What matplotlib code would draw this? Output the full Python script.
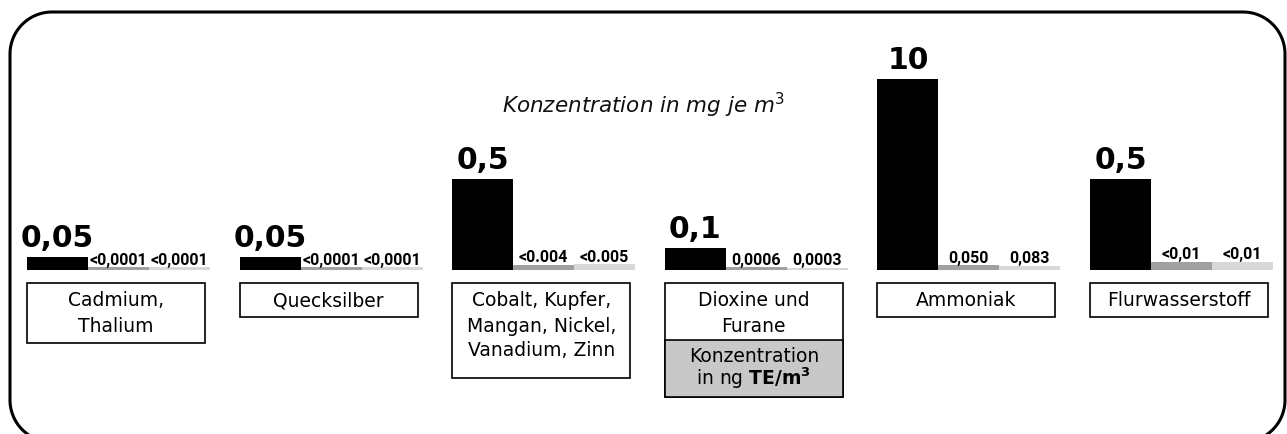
import matplotlib
matplotlib.use("Agg")
import numpy as np
import matplotlib.pyplot as plt
from matplotlib.patches import Rectangle

plt.rcParams['font.family'] = ['DejaVu Sans']
plt.rcParams['mathtext.fontset'] = 'dejavusans'

# Data
groups = ["Cadmium,\nThalium", "Quecksilber", "Cobalt, Kupfer,\nMangan, Nickel,\nVanadium, Zinn",
          "Dioxine und\nFurane", "Ammoniak", "Flurwasserstoff"]
limit_labels = ["0,05", "0,05", "0,5", "0,1", "10", "0,5"]
meas1_labels = ["<0,0001", "<0,0001", "<0.004", "0,0006", "0,050", "<0,01"]
meas2_labels = ["<0,0001", "<0,0001", "<0.005", "0,0003", "0,083", "<0,01"]
# bar heights as drawn in the picture (not to scale)
limit_height = [13, 13, 91, 22, 191, 91]
meas1_height = [3, 3, 5, 3, 5, 8]
meas2_height = [3, 3, 6, 2, 4, 8]

W, H = 1287, 434
fig = plt.figure(figsize=(W / 100, H / 100), dpi=100)

# rounded frame in pixel coords, built from line segments (bottom runs off the page)
fax = fig.add_axes([0, 0, 1, 1])
fax.set_xlim(0, W)
fax.set_ylim(H, 0)
fax.axis('off')
x0, y0, x1, y1, r = 10, 12, 1285, 442, 42
t = np.linspace(0, np.pi / 2, 30)
px, py = [W / 2], [y0]
for cx, cy, a0 in [(x1 - r, y0 + r, -np.pi / 2), (x1 - r, y1 - r, 0),
                   (x0 + r, y1 - r, np.pi / 2), (x0 + r, y0 + r, np.pi)]:
    px += list(cx + r * np.cos(a0 + t))
    py += list(cy + r * np.sin(a0 + t))
px.append(W / 2)
py.append(y0)
fax.plot(px, py, color='black', lw=2.2, solid_joinstyle='round', solid_capstyle='butt')

# chart axes: x in group units, y in pixels above baseline
X0, G, BASE = 27, 212.6, 270
ax = fig.add_axes([0, 0, 1, 1], facecolor='none')
ax.set_xlim(-X0 / G, (W - X0) / G)
ax.set_ylim(-(H - BASE), BASE)
ax.axis('off')

w = 61 / G
xs = list(range(len(groups)))
colors = ['black', '#a0a0a0', '#d8d8d8']
for k, (hts, col) in enumerate(zip([limit_height, meas1_height, meas2_height], colors)):
    ax.bar([x + k * w for x in xs], hts, width=w, align='edge', color=col, lw=0)

for i in xs:
    ax.text(i + w / 2, limit_height[i] + 10, limit_labels[i], ha='center', va='baseline',
            fontsize=21.5, fontweight='bold')
    ax.text(i + 1.5 * w, meas1_height[i] + 2.5, meas1_labels[i], ha='center', va='baseline',
            fontsize=11.5, fontweight='bold', family='Roboto')
    ax.text(i + 2.5 * w, meas2_height[i] + 2.5, meas2_labels[i], ha='center', va='baseline',
            fontsize=11.5, fontweight='bold', family='Roboto')

# label boxes
box_w = 178 / G
box_h = [60, 34, 95, 114, 34, 34]
for i in xs:
    top = -13
    ax.add_patch(Rectangle((i, top - box_h[i]), box_w, box_h[i], fc='white', ec='black', lw=1.2))
    for j, line in enumerate(groups[i].split('\n')):
        ax.text(i + box_w / 2, top - 18 - 25 * j, line, ha='center', va='center', fontsize=13.5)

# dioxin unit sub-box
ax.add_patch(Rectangle((3, -127), box_w, 57, fc='#c8c8c8', ec='black', lw=1.2))
ax.text(3 + box_w / 2, -86, "Konzentration", ha='center', va='center', fontsize=13.5)
ax.text(3 + box_w / 2, -115, r"in ng $\mathbf{TE/m}^{\mathbf{3}}$", ha='center', va='baseline',
        fontsize=13.5)

fig.text(643 / W, 1 - 113 / H, "Konzentration in mg je m$^3$", ha='center', va='baseline',
         fontsize=15.5, style='italic', color='#111111')

fig.savefig("out.png", dpi=100)
